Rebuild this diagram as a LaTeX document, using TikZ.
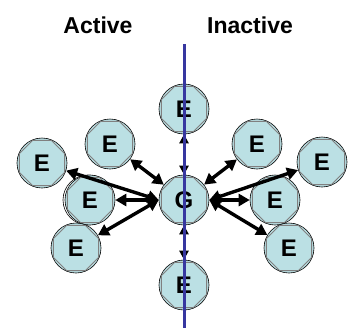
\documentclass[tikz,border=0pt]{standalone}
\usepackage{fontspec}
\setmainfont{Liberation Sans}
\usetikzlibrary{arrows.meta}
\definecolor{nodefill}{RGB}{187,224,228}
\definecolor{axisblue}{RGB}{55,55,160}
\tikzset{
  ent/.style={circle, minimum size=50pt, inner sep=0pt, fill=nodefill, draw=black, line width=0.6pt,
    font=\bfseries\fontsize{24}{24}\selectfont},
  octa/.style={gray, line width=0.9pt},
  link/.style={line width=3.4pt, {Triangle[length=11pt,width=12pt]}-{Triangle[length=11pt,width=12pt]}},
  vlink/.style={line width=2.4pt, {Triangle[length=9pt,width=9pt]}-{Triangle[length=9pt,width=9pt]}},
  title/.style={font=\bfseries\fontsize{23}{23}\selectfont}
}
\begin{document}
\begin{tikzpicture}[x=1pt,y=1pt]
\useasboundingbox (0,0) rectangle (351,-330);
\node[title] (act) at (98,-25) {Active};
\node[title] (inact) at (250,-25) {Inactive};
\node[ent] (G) at (184,-200) {G};
\node[ent] (T) at (184,-109) {E};
\node[ent] (B) at (184,-285) {E};
\node[ent] (UL) at (110,-144) {E};
\node[ent] (FL) at (42,-163) {E};
\draw[line width=0.6pt] (88,-200) circle (25pt);
\node[ent] (ML) at (90,-200) {E};
\node[ent] (LL) at (76,-248) {E};
\node[ent] (UR) at (257,-144) {E};
\node[ent] (FR) at (322,-162) {E};
\node[ent] (MR) at (275,-200) {E};
\node[ent] (LR) at (289,-248) {E};
\foreach \n in {G,T,B,UL,FL,ML,LL,UR,FR,MR,LR}{
  \draw[octa] (\n.center) +(22.5:24.5pt) -- +(67.5:24.5pt) -- +(112.5:24.5pt) -- +(157.5:24.5pt)
    -- +(202.5:24.5pt) -- +(247.5:24.5pt) -- +(292.5:24.5pt) -- +(337.5:24.5pt) -- cycle;
}
\draw[link] (G.west) -- (FL);
\draw[link] (G.west) -- (ML);
\draw[link] (G.west) -- (LL);
\draw[link] (G) -- (UL);
\draw[link] (G.east) -- (FR);
\draw[link] (G.east) -- (MR);
\draw[link] (G.east) -- (LR);
\draw[link] (G) -- (UR);
\draw[vlink] (G) -- (T);
\draw[vlink] (G) -- (B);
\coordinate (ltop) at (184,-44);
\coordinate (lbot) at (184,-328);
\draw[axisblue, line width=3pt] (ltop) -- (lbot);
\end{tikzpicture}
\end{document}
